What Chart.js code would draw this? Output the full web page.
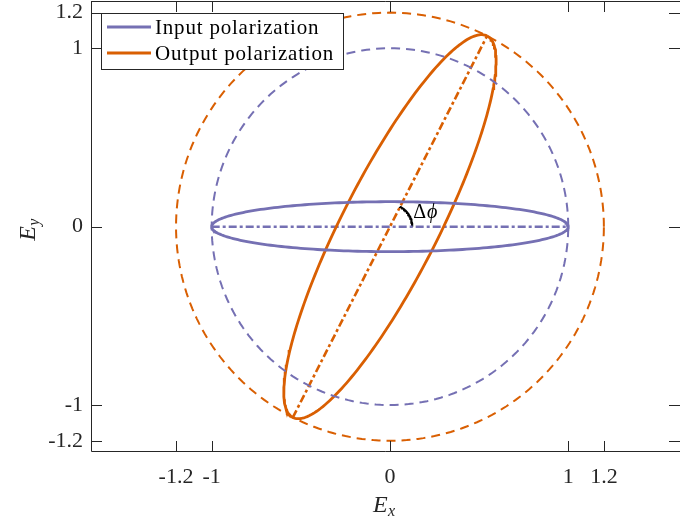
<!DOCTYPE html>
<html>
<head>
<meta charset="utf-8">
<script src="https://cdn.jsdelivr.net/npm/chart.js@4.4.1/dist/chart.umd.min.js"></script>
<style>
  body { margin: 0; background: #fff; }
</style>
</head>
<body>
<canvas id="polChart" width="680" height="520"></canvas>
<script>
// values
var xTicks = [-1.2, -1, 0, 1, 1.2];
var yTicks = [-1.2, -1, 0, 1, 1.2];
var xRange = [-1.677, 1.627];
var yRange = [-1.263, 1.265];

var seriesNames = ["Input polarization", "Output polarization"];
var seriesColors = ["#7570b3", "#d95f02"];
var semiMajor = [1, 1.2];       // ellipse semi-axes
var semiMinor = [0.14, 0.27];
var tiltDeg = [0, 63];          // tilt of the major axis
var circleRadius = [1, 1.2];    // dashed reference circles
var arcRadius = 0.125;          // delta phi marker
var deltaLabel = [0.13, 0.08];

function ellipsePts(a, b, deg) {
    var th = deg * Math.PI / 180, pts = [];
    for (var i = 0; i <= 240; i++) {
        var t = 2 * Math.PI * i / 240;
        pts.push({
            x: a * Math.cos(t) * Math.cos(th) - b * Math.sin(t) * Math.sin(th),
            y: a * Math.cos(t) * Math.sin(th) + b * Math.sin(t) * Math.cos(th)
        });
    }
    return pts;
}
function axisPts(a, deg) {
    var th = deg * Math.PI / 180;
    return [{x: -a * Math.cos(th), y: -a * Math.sin(th)}, {x: a * Math.cos(th), y: a * Math.sin(th)}];
}
function arcPts(r, deg) {
    var pts = [];
    for (var i = 0; i <= 30; i++) {
        var t = deg * Math.PI / 180 * i / 30;
        pts.push({x: r * Math.cos(t), y: r * Math.sin(t)});
    }
    return pts;
}

var datasets = [];
for (var k = 0; k < 2; k++) {
    datasets.push({label: "circle" + k, data: ellipsePts(circleRadius[k], circleRadius[k], 0),
        borderColor: seriesColors[k], borderWidth: 2, borderDash: [9, 6]});
}
for (var k = 0; k < 2; k++) {
    datasets.push({label: seriesNames[k], data: ellipsePts(semiMajor[k], semiMinor[k], tiltDeg[k]),
        borderColor: seriesColors[k], borderWidth: 2.8});
}
for (var k = 0; k < 2; k++) {
    datasets.push({label: "axis" + k, data: axisPts(semiMajor[k], tiltDeg[k]),
        borderColor: seriesColors[k], borderWidth: 2.6, borderDash: [8, 3, 3, 3]});
}
datasets.push({label: "dphi", data: arcPts(arcRadius, tiltDeg[1]), borderColor: "#000", borderWidth: 2.2});
datasets.forEach(function (d) { d.showLine = true; d.pointRadius = 0; d.fill = false; d.tension = 0; });

var axisColor = "#262626";
var serif = "'Liberation Serif', 'DejaVu Serif', serif";

var boxPlugin = {
    id: "box",
    afterDraw: function (chart) {
        var ctx = chart.ctx, a = chart.chartArea, sx = chart.scales.x, sy = chart.scales.y;
        ctx.save();
        ctx.strokeStyle = axisColor;
        ctx.lineWidth = 1;
        ctx.beginPath();
        ctx.moveTo(a.left + 0.5, a.top + 0.5);
        ctx.lineTo(a.right, a.top + 0.5);
        ctx.moveTo(a.left + 0.5, a.top);
        ctx.lineTo(a.left + 0.5, a.bottom - 0.5);
        ctx.lineTo(a.right, a.bottom - 0.5);
        xTicks.forEach(function (v) {
            var px = Math.round(sx.getPixelForValue(v)) + 0.5;
            ctx.moveTo(px, a.bottom); ctx.lineTo(px, a.bottom - 11);
            ctx.moveTo(px, a.top); ctx.lineTo(px, a.top + 11);
        });
        yTicks.forEach(function (v) {
            var py = Math.round(sy.getPixelForValue(v)) + 0.5;
            ctx.moveTo(a.left, py); ctx.lineTo(a.left + 11, py);
            ctx.moveTo(a.right, py); ctx.lineTo(a.right - 11, py);
        });
        ctx.stroke();

        // axis titles
        ctx.fillStyle = axisColor;
        ctx.textBaseline = "alphabetic";
        ctx.textAlign = "left";
        ctx.font = "italic 24px " + serif;
        var ex = sx.getPixelForValue(0) - 17;
        ctx.fillText("E", ex, 512);
        ctx.font = "italic 16px " + serif;
        ctx.fillText("x", ex + 15, 516);
        ctx.save();
        ctx.translate(35, sy.getPixelForValue(0) + 14);
        ctx.rotate(-Math.PI / 2);
        ctx.font = "italic 24px " + serif;
        ctx.fillText("E", 0, 0);
        ctx.font = "italic 16px " + serif;
        ctx.fillText("y", 15, 4);
        ctx.restore();

        // delta phi label
        ctx.fillStyle = "#000";
        var lx = sx.getPixelForValue(deltaLabel[0]), ly = sy.getPixelForValue(deltaLabel[1]);
        ctx.font = "20px " + serif;
        ctx.textBaseline = "middle";
        ctx.fillText("\u0394", lx, ly);
        var w = ctx.measureText("\u0394").width;
        ctx.font = "italic 20px " + serif;
        ctx.fillText("\u03d5", lx + w + 1, ly);

        // legend
        ctx.fillStyle = "#fff";
        ctx.fillRect(101, 13, 242, 56);
        ctx.strokeStyle = axisColor;
        ctx.strokeRect(101.5, 13.5, 242, 56);
        ctx.font = "21px " + serif;
        ctx.letterSpacing = "0.8px";
        for (var k = 0; k < 2; k++) {
            var yy = 27 + k * 26;
            ctx.strokeStyle = seriesColors[k];
            ctx.lineWidth = 2.8;
            ctx.beginPath();
            ctx.moveTo(107, yy); ctx.lineTo(151, yy);
            ctx.stroke();
            ctx.fillStyle = "#000";
            ctx.textBaseline = "middle";
            ctx.fillText(seriesNames[k], 155, yy + 1);
        }
        ctx.restore();
    }
};

function noPad(s) {
    s.paddingTop = 0; s.paddingBottom = 0; s.paddingLeft = 0; s.paddingRight = 0;
}

var tickFont = {family: serif, size: 22};
var config = {
    type: "scatter",
    data: {datasets: datasets},
    options: {
        responsive: false,
        animation: false,
        layout: {padding: {top: 1, right: 0, left: 0, bottom: 0}},
        plugins: {legend: {display: false}, tooltip: {enabled: false}},
        scales: {
            x: {
                min: xRange[0], max: xRange[1],
                grid: {display: false}, border: {display: false},
                afterBuildTicks: function (s) { s.ticks = xTicks.map(function (v) { return {value: v}; }); },
                afterFit: function (s) { s.height = 68; noPad(s); },
                ticks: {autoSkip: false, maxRotation: 0, padding: 4, color: axisColor, font: tickFont,
                    callback: function (v) { return String(v); }}
            },
            y: {
                min: yRange[0], max: yRange[1],
                grid: {display: false}, border: {display: false},
                afterBuildTicks: function (s) { s.ticks = yTicks.map(function (v) { return {value: v}; }); },
                afterFit: function (s) { s.width = 91; noPad(s); },
                ticks: {autoSkip: false, padding: 0, color: axisColor, font: tickFont,
                    callback: function (v) { return String(v); }}
            }
        }
    },
    plugins: [boxPlugin]
};

var polChart = new Chart(document.getElementById("polChart"), config);
</script>
</body>
</html>
